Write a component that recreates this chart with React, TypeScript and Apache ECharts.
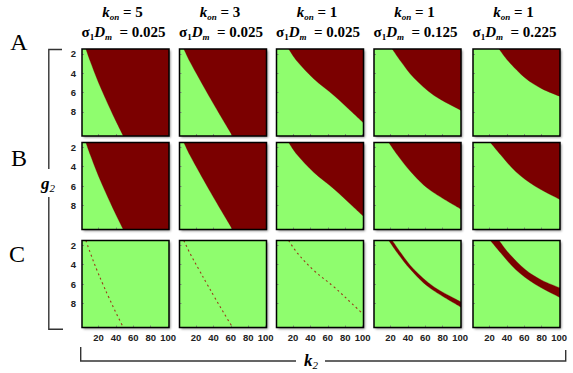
import React, { useEffect, useRef } from 'react';
import * as echarts from 'echarts';

// ---------- data ----------
const konValues = ['5', '3', '1', '1', '1'];
const sigmaDmValues = ['0.025', '0.025', '0.025', '0.125', '0.225'];
const rowLabels = ['A', 'B', 'C'];
const xTickValues = [20, 40, 60, 80, 100];
const yTickValues = [2, 4, 6, 8];

// boundary of the dark-red region, as [k2, g2] points (top edge -> bottom/right edge)
const boundaryA1 = [[5.5, 1.5], [10.6, 2.8], [18.3, 4.6], [24.9, 6], [31.6, 7.35], [40.2, 9], [48.5, 10.5]];
const boundaryA2 = [[6, 1.5], [12.9, 2.8], [23.9, 4.6], [32.6, 6], [41.2, 7.35], [52, 9], [62, 10.5]];
const boundaryA3 = [[15, 1.5], [25, 2.8], [44, 4.6], [67, 6.3], [88, 8.05], [101, 9.15]];
const boundaryA4 = [[22, 1.5], [32, 2.8], [47, 4.5], [70, 6.3], [101, 7.85]];
const boundaryA5 = [[31, 1.5], [42, 2.8], [61, 4.5], [80, 5.6], [101, 6.4]];
const boundaryB4 = [[18, 1.5], [28, 2.8], [43, 4.5], [65, 6.4], [101, 8.4]];
const boundaryB5 = [[21, 1.5], [33, 2.8], [50, 4.5], [72, 6], [101, 7.4]];

const boundariesRowA = [boundaryA1, boundaryA2, boundaryA3, boundaryA4, boundaryA5];
const boundariesRowB = [boundaryA1, boundaryA2, boundaryA3, boundaryB4, boundaryB5];

// ---------- layout / style ----------
const X_MIN = 1;
const X_MAX = 101;
const Y_MIN = 1.5;
const Y_MAX = 10.5;
const LEFTS = [82, 179.5, 276.5, 374, 473];
const TOPS = [49, 142.5, 240.5];
const SIZE = 87;
const GREEN = '#8ffd6e';
const RED = '#7b0000';
const LINE_C = '#9a3a1a';
const SERIF = '"Liberation Serif", "Times New Roman", serif';
const SANS = '"Liberation Sans", Arial, sans-serif';

// smooth drawing of a polyline of pixel points (Catmull-Rom -> cubic Bezier)
function curveSegments(pts: number[][]): string {
  let d = '';
  for (let i = 0; i < pts.length - 1; i++) {
    const p0 = pts[i - 1] || pts[i];
    const p1 = pts[i];
    const p2 = pts[i + 1];
    const p3 = pts[i + 2] || p2;
    const c1x = p1[0] + (p2[0] - p0[0]) / 6;
    const c1y = p1[1] + (p2[1] - p0[1]) / 6;
    const c2x = p2[0] - (p3[0] - p1[0]) / 6;
    const c2y = p2[1] - (p3[1] - p1[1]) / 6;
    d += ` C${c1x},${c1y} ${c2x},${c2y} ${p2[0]},${p2[1]}`;
  }
  return d;
}

function regionSeries(gi: number, boundary: number[][]) {
  return {
    type: 'custom',
    xAxisIndex: gi,
    yAxisIndex: gi,
    clip: true,
    data: boundary,
    encode: { x: 0, y: 1 },
    renderItem: (params: any, api: any) => {
      if (params.dataIndex !== 0) return null;
      const px = boundary.map((p) => api.coord(p));
      const last = boundary[boundary.length - 1];
      const c1 = api.coord([X_MAX, last[1]]);
      const c2 = api.coord([X_MAX, Y_MIN]);
      const d = `M${px[0][0]},${px[0][1]}` + curveSegments(px) + ` L${c1[0]},${c1[1]} L${c2[0]},${c2[1]} Z`;
      return { type: 'path', shape: { pathData: d }, style: { fill: RED, stroke: RED, lineWidth: 0.3 } };
    },
  };
}

function bandSeries(gi: number, outer: number[][], inner: number[][]) {
  const all = outer.concat(inner);
  return {
    type: 'custom',
    xAxisIndex: gi,
    yAxisIndex: gi,
    clip: true,
    data: all,
    encode: { x: 0, y: 1 },
    renderItem: (params: any, api: any) => {
      if (params.dataIndex !== 0) return null;
      const po = outer.map((p) => api.coord(p));
      const pi = inner.slice().reverse().map((p) => api.coord(p));
      const d =
        `M${po[0][0]},${po[0][1]}` + curveSegments(po) + ` L${pi[0][0]},${pi[0][1]}` + curveSegments(pi) + ' Z';
      return { type: 'path', shape: { pathData: d }, style: { fill: RED, stroke: RED, lineWidth: 0.3 } };
    },
  };
}

export default function App() {
  const ref = useRef<HTMLDivElement>(null);

  useEffect(() => {
    if (!ref.current) return;
    const chart = echarts.init(ref.current, undefined, { renderer: 'svg' });

    const grids: any[] = [];
    const xAxes: any[] = [];
    const yAxes: any[] = [];
    const series: any[] = [];
    const graphics: any[] = [];

    for (let r = 0; r < 3; r++) {
      for (let c = 0; c < 5; c++) {
        const gi = r * 5 + c;
        grids.push({
          left: LEFTS[c],
          top: TOPS[r],
          width: SIZE,
          height: SIZE,
          show: true,
          backgroundColor: GREEN,
          borderWidth: 0,
          shadowColor: 'rgba(0,0,0,0.45)',
          shadowBlur: 2,
          shadowOffsetX: 1.5,
          shadowOffsetY: 1.5,
        });
        xAxes.push({
          gridIndex: gi,
          type: 'value',
          min: X_MIN,
          max: X_MAX,
          splitLine: { show: false },
          axisLine: { show: false },
          axisTick: { show: true, inside: true, length: 2, lineStyle: { color: '#777', width: 0.8 }, customValues: xTickValues },
          axisLabel: {
            show: r === 2,
            customValues: xTickValues,
            margin: 5,
            fontSize: 9.5,
            fontWeight: 'bold',
            fontFamily: SANS,
            color: '#222',
          },
        });
        yAxes.push({
          gridIndex: gi,
          type: 'value',
          inverse: true,
          min: Y_MIN,
          max: Y_MAX,
          splitLine: { show: false },
          axisLine: { show: false },
          axisTick: { show: true, inside: true, length: 2, lineStyle: { color: '#777', width: 0.8 }, customValues: yTickValues },
          axisLabel: {
            show: c === 0,
            customValues: yTickValues,
            margin: 6,
            fontSize: 9.5,
            fontWeight: 'bold',
            fontFamily: SANS,
            color: '#222',
          },
        });

        if (r === 0) series.push(regionSeries(gi, boundariesRowA[c]));
        else if (r === 1) series.push(regionSeries(gi, boundariesRowB[c]));
        else if (c < 3) {
          series.push({
            type: 'line',
            xAxisIndex: gi,
            yAxisIndex: gi,
            data: boundariesRowA[c],
            symbol: 'none',
            smooth: 0.4,
            lineStyle: { color: LINE_C, width: 1.1, type: [2, 3] },
          });
        } else {
          series.push(bandSeries(gi, boundariesRowB[c], boundariesRowA[c]));
        }

        graphics.push({
          type: 'rect',
          z: 100,
          shape: { x: LEFTS[c], y: TOPS[r], width: SIZE, height: SIZE },
          style: { fill: 'none', stroke: '#000', lineWidth: 1.5 },
        });
      }
    }

    const richHead = {
      k: { fontFamily: SERIF, fontSize: 15, fontWeight: 'bold', fontStyle: 'italic', lineHeight: 18, color: '#000' },
      s: { fontFamily: SERIF, fontSize: 9, fontWeight: 'bold', fontStyle: 'italic', lineHeight: 8, verticalAlign: 'bottom', color: '#000' },
      n: { fontFamily: SERIF, fontSize: 15, fontWeight: 'bold', lineHeight: 18, color: '#000' },
      ns: { fontFamily: SERIF, fontSize: 9, fontWeight: 'bold', lineHeight: 8, verticalAlign: 'bottom', color: '#000' },
    };

    for (let c = 0; c < 5; c++) {
      const cx = LEFTS[c] + SIZE / 2;
      graphics.push({
        type: 'text',
        x: cx - 3,
        y: 12,
        style: {
          text: `{k|k}{s|on}{n| = ${konValues[c]}}`,
          rich: richHead,
          align: 'center',
          verticalAlign: 'middle',
        },
      });
      graphics.push({
        type: 'text',
        x: cx - 2,
        y: 32,
        style: {
          text: `{n|σ}{ns|1}{k|D}{s|m}{n|  = ${sigmaDmValues[c]}}`,
          rich: richHead,
          align: 'center',
          verticalAlign: 'middle',
        },
      });
    }

    const rowLabelPos = [[19, 42], [19, 158], [17, 254]];
    rowLabels.forEach((lab, i) => {
      graphics.push({
        type: 'text',
        x: rowLabelPos[i][0],
        y: rowLabelPos[i][1],
        style: { text: lab, fontFamily: SERIF, fontSize: 24, fill: '#000', align: 'center', verticalAlign: 'middle' },
      });
    });

    const bracket = { stroke: '#333', lineWidth: 1.4, fill: 'none' };
    // left bracket (g2)
    graphics.push({ type: 'polyline', shape: { points: [[62, 49.5], [48.8, 49.5], [48.8, 169]] }, style: bracket });
    graphics.push({ type: 'polyline', shape: { points: [[48.8, 197], [48.8, 329.3], [63, 329.3]] }, style: bracket });
    // bottom bracket (k2)
    graphics.push({ type: 'polyline', shape: { points: [[80.7, 347], [80.7, 361], [296, 361]] }, style: bracket });
    graphics.push({ type: 'polyline', shape: { points: [[325, 361], [565.7, 361], [565.7, 350]] }, style: bracket });

    const richAxis = {
      g: { fontFamily: SERIF, fontSize: 17, fontWeight: 'bold', fontStyle: 'italic', lineHeight: 20, color: '#000' },
      s: { fontFamily: SERIF, fontSize: 11, fontStyle: 'italic', lineHeight: 10, verticalAlign: 'bottom', color: '#000' },
    };
    graphics.push({
      type: 'text',
      x: 48,
      y: 183,
      style: { text: '{g|g}{s|2}', rich: richAxis, align: 'center', verticalAlign: 'middle' },
    });
    graphics.push({
      type: 'text',
      x: 311,
      y: 360,
      style: { text: '{g|k}{s|2}', rich: richAxis, align: 'center', verticalAlign: 'middle' },
    });

    chart.setOption({
      animation: false,
      backgroundColor: '#fff',
      grid: grids,
      xAxis: xAxes,
      yAxis: yAxes,
      series,
      graphic: graphics,
    });

    return () => chart.dispose();
  }, []);

  return <div ref={ref} style={{ position: 'fixed', left: 0, top: 0, width: 573, height: 373 }} />;
}
